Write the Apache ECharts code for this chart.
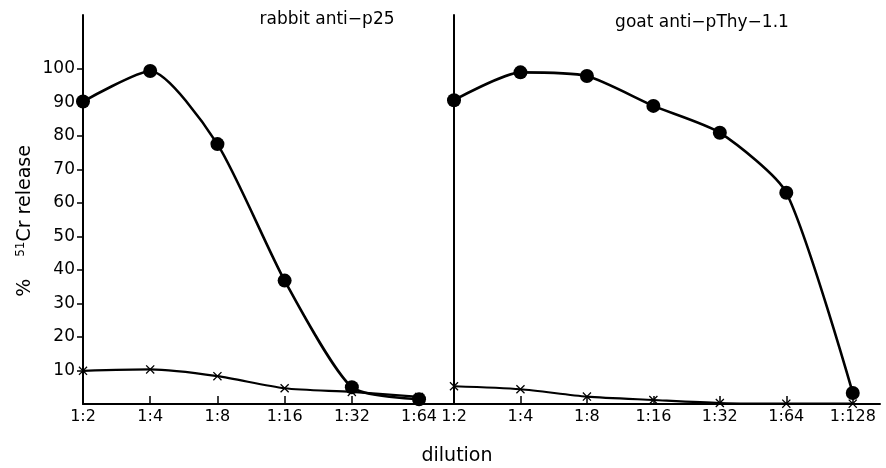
<!DOCTYPE html>
<html><head><meta charset="utf-8">
<script src="https://cdn.jsdelivr.net/npm/echarts@6/dist/echarts.min.js"></script>
<style>html,body{margin:0;padding:0;background:#fff}#c{width:886px;height:468px}</style>
</head><body><div id="c"></div>
<script>
const leftCats = ['1:2','1:4','1:8','1:16','1:32','1:64'];
const rightCats = ['1:2','1:4','1:8','1:16','1:32','1:64','1:128'];
const leftCircles = [90.2, 99.3, 77.5, 36.8, 5.0, 1.4];
const leftCrosses = [9.9, 10.3, 8.3, 4.7, 3.6, 2.1];
const rightCircles = [90.6, 98.9, 97.8, 88.9, 80.9, 63.0, 3.3];
const rightCrosses = [5.3, 4.4, 2.2, 1.2, 0.3, 0.1, 0.1];
const yTicks = [10, 20, 30, 40, 50, 60, 70, 80, 90, 100];
const titles = ['rabbit anti\u2212p25', 'goat anti\u2212pThy\u22121.1'];

const FONT = 'DejaVu Sans';
const crossPath = 'path://M0,1L1,0L5,4L9,0L10,1L6,5L10,9L9,10L5,6L1,10L0,9L4,5Z';
const idx = a => a.map((_, i) => i);
const pairs = (v) => v.map((y, i) => [i, y]);

function xAxis(gi, cats, max) {
  return {
    type: 'value', gridIndex: gi, min: 0, max: max,
    axisLine: { show: true, lineStyle: { color: '#000', width: 2 } },
    axisTick: { show: true, inside: true, length: 8, lineStyle: { color: '#000', width: 1.5 }, customValues: idx(cats) },
    axisLabel: { show: true, customValues: idx(cats), formatter: v => cats[Math.round(v)] || '',
      color: '#000', fontFamily: FONT, fontSize: 16, margin: 5 },
    splitLine: { show: false }
  };
}
function yAxis(gi, labels) {
  return {
    type: 'value', gridIndex: gi, min: 0, max: 116,
    axisLine: { show: true, lineStyle: { color: '#000', width: 2 } },
    axisTick: { show: labels, length: 6, lineStyle: { color: '#000', width: 1.5 }, customValues: yTicks },
    axisLabel: { show: labels, customValues: yTicks, color: '#000', fontFamily: FONT, fontSize: 17, margin: 8 },
    splitLine: { show: false }
  };
}
function circ(gi, data) {
  return { type: 'line', xAxisIndex: gi, yAxisIndex: gi, data: pairs(data), smooth: 0.22,
    symbol: 'circle', symbolSize: 14, itemStyle: { color: '#000' }, lineStyle: { color: '#000', width: 2.6 },
    z: 3, animation: false };
}
function cross(gi, data) {
  return { type: 'line', xAxisIndex: gi, yAxisIndex: gi, data: pairs(data), smooth: 0.25,
    symbol: crossPath, symbolSize: 9, itemStyle: { color: '#000' }, lineStyle: { color: '#000', width: 2.2 },
    z: 2, animation: false };
}

const chart = echarts.init(document.getElementById('c'), null, { renderer: 'canvas' });
chart.setOption({
  backgroundColor: '#fff',
  animation: false,
  grid: [
    { left: 83, top: 15, width: 371, height: 389 },
    { left: 454, top: 15, width: 426, height: 389 }
  ],
  xAxis: [xAxis(0, leftCats, 5.52), xAxis(1, rightCats, 6.41)],
  yAxis: [yAxis(0, true), yAxis(1, false)],
  series: [cross(0, leftCrosses), circ(0, leftCircles), cross(1, rightCrosses), circ(1, rightCircles)],
  graphic: [
    { type: 'text', style: { text: titles[0], fontFamily: FONT, fontSize: 17, fill: '#000', x: 327, y: 20, align: 'center', verticalAlign: 'middle' } },
    { type: 'text', style: { text: titles[1], fontFamily: FONT, fontSize: 17, fill: '#000', x: 702, y: 23, align: 'center', verticalAlign: 'middle' } },
    { type: 'text', style: { text: 'dilution', fontFamily: FONT, fontSize: 19, fill: '#000', x: 457, y: 456, align: 'center', verticalAlign: 'middle' } },
    { type: 'text', x: 25, y: 221, rotation: Math.PI / 2,
      style: { text: '%{gap| }{sup|51}Cr release', fontFamily: FONT, fontSize: 19, fill: '#000', align: 'center', verticalAlign: 'middle',
        rich: { gap: { width: 22 }, sup: { fontFamily: FONT, fontSize: 12, verticalAlign: 'top', padding: [0, 0, 9, 0] } } } }
  ]
});
</script></body></html>
